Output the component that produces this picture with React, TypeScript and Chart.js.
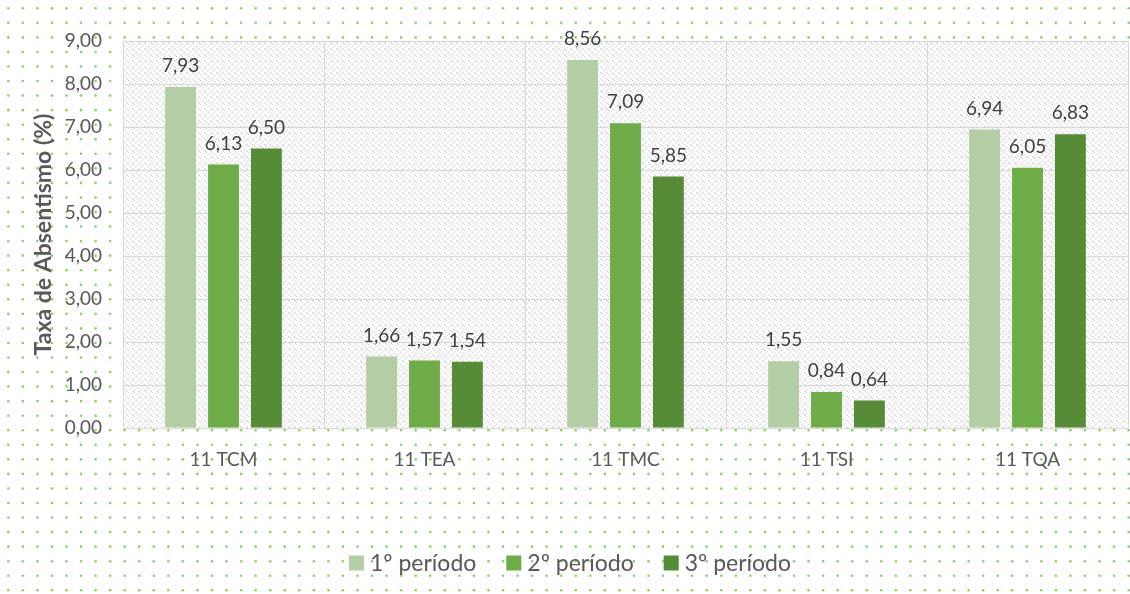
import React, { useEffect, useRef } from 'react';
import { Chart, registerables } from 'chart.js';

Chart.register(...registerables);

const categories = ['11 TCM', '11 TEA', '11 TMC', '11 TSI', '11 TQA'];
const seriesNames = ['1º período', '2º período', '3º período'];
const periodo1 = [7.93, 1.66, 8.56, 1.55, 6.94];
const periodo2 = [6.13, 1.57, 7.09, 0.84, 6.05];
const periodo3 = [6.5, 1.54, 5.85, 0.64, 6.83];
const seriesColors = ['#b3cea5', '#6eac47', '#568b37'];
const yAxisTitle = 'Taxa de Absentismo (%)';
const yMin = 0;
const yMax = 9;
const yStep = 1;

const FONT = 'Lato, "Open Sans", sans-serif';
const fmt = (v: number) => v.toFixed(2).replace('.', ',');

function makeHatch(): CanvasPattern | string {
  const c = document.createElement('canvas');
  c.width = 6;
  c.height = 6;
  const g = c.getContext('2d');
  if (!g) return '#eeeeee';
  g.fillStyle = '#ffffff';
  g.fillRect(0, 0, 6, 6);
  g.fillStyle = '#cdcdcd';
  g.fillRect(0, 0, 1, 1);
  g.fillRect(1, 1, 1, 1);
  g.fillRect(2, 2, 1, 1);
  g.fillStyle = '#e0e0e0';
  g.fillRect(3, 5, 1, 1);
  g.fillRect(4, 4, 1, 1);
  g.fillRect(5, 3, 1, 1);
  const p = g.createPattern(c, 'repeat');
  return p || '#eeeeee';
}

const backgroundPlugin = {
  id: 'bgPattern',
  beforeDraw(chart: any) {
    const { ctx, width, height, chartArea: a } = chart;
    ctx.save();
    ctx.fillStyle = '#ffffff';
    ctx.fillRect(0, 0, width, height);
    ctx.fillStyle = '#8fcd66';
    const step = 14.55;
    for (let y = 8.3; y < height; y += step) {
      for (let x = 8.3; x < width; x += step) {
        if (x > a.left - 1 && x < a.right + 1 && y > a.top - 1 && y < a.bottom + 1) continue;
        ctx.beginPath();
        ctx.arc(x, y, 1.3, 0, Math.PI * 2);
        ctx.fill();
      }
    }
    ctx.fillStyle = makeHatch();
    ctx.fillRect(a.left, a.top, a.right - a.left, a.bottom - a.top);
    ctx.restore();
  },
};

const dataLabelPlugin = {
  id: 'dataLabels',
  afterDatasetsDraw(chart: any) {
    const { ctx } = chart;
    ctx.save();
    ctx.font = `19px ${FONT}`;
    ctx.fillStyle = '#404040';
    ctx.textAlign = 'center';
    ctx.textBaseline = 'middle';
    chart.data.datasets.forEach((ds: any, i: number) => {
      const meta = chart.getDatasetMeta(i);
      meta.data.forEach((el: any, j: number) => {
        ctx.fillText(fmt(ds.data[j]), el.x, el.y - 21);
      });
    });
    ctx.restore();
  },
};

const legendPlugin = {
  id: 'customLegend',
  afterDraw(chart: any) {
    const { ctx, width } = chart;
    ctx.save();
    ctx.font = `23px ${FONT}`;
    ctx.textBaseline = 'middle';
    const box = 15;
    const gapBoxText = 6;
    const gapItems = 30;
    const widths = seriesNames.map((n) => box + gapBoxText + ctx.measureText(n).width);
    const total = widths.reduce((s, w) => s + w, 0) + gapItems * (seriesNames.length - 1);
    let x = width / 2 + 5 - total / 2;
    const cy = 563;
    seriesNames.forEach((n, i) => {
      ctx.fillStyle = seriesColors[i];
      ctx.fillRect(x, cy - box / 2, box, box);
      ctx.fillStyle = '#595959';
      ctx.textAlign = 'left';
      ctx.fillText(n, x + box + gapBoxText, cy + 1);
      x += widths[i] + gapItems;
    });
    ctx.restore();
  },
};

export default function App() {
  const ref = useRef<HTMLCanvasElement>(null);

  useEffect(() => {
    if (!ref.current) return;
    const series = [periodo1, periodo2, periodo3];
    const chart = new Chart(ref.current, {
      type: 'bar',
      data: {
        labels: categories,
        datasets: series.map((d, i) => ({
          label: seriesNames[i],
          data: d,
          backgroundColor: seriesColors[i],
          borderWidth: 0,
          categoryPercentage: 0.64,
          barPercentage: 0.72,
        })),
      },
      options: {
        animation: false,
        responsive: false,
        maintainAspectRatio: false,
        layout: { padding: { top: 41, right: 2, left: 0, bottom: 0 } },
        plugins: {
          legend: { display: false },
          tooltip: { enabled: false },
        },
        scales: {
          x: {
            grid: { offset: true, color: '#d9d9d9', drawTicks: false },
            border: { color: '#d9d9d9' },
            ticks: { color: '#595959', font: { family: FONT, size: 19 }, padding: 20 },
            afterFit: (s: any) => {
              s.height = 166;
            },
          },
          y: {
            min: yMin,
            max: yMax,
            grid: { color: '#d9d9d9', drawTicks: false },
            border: { color: '#d9d9d9' },
            ticks: {
              stepSize: yStep,
              color: '#595959',
              font: { family: FONT, size: 19 },
              padding: 21,
              callback: (v: any) => fmt(Number(v)),
            },
            title: {
              display: true,
              text: yAxisTitle,
              color: '#595959',
              font: { family: FONT, size: 23, weight: 'bold' },
              padding: { top: 30, bottom: 0 },
            },
            afterFit: (s: any) => {
              s.width = 123;
            },
          },
        },
      },
      plugins: [backgroundPlugin, dataLabelPlugin, legendPlugin],
    });
    return () => chart.destroy();
  }, []);

  return (
    <div style={{ position: 'absolute', left: 0, top: 0, width: 1130, height: 594 }}>
      <canvas ref={ref} width={1130} height={594} style={{ display: 'block' }} />
    </div>
  );
}
